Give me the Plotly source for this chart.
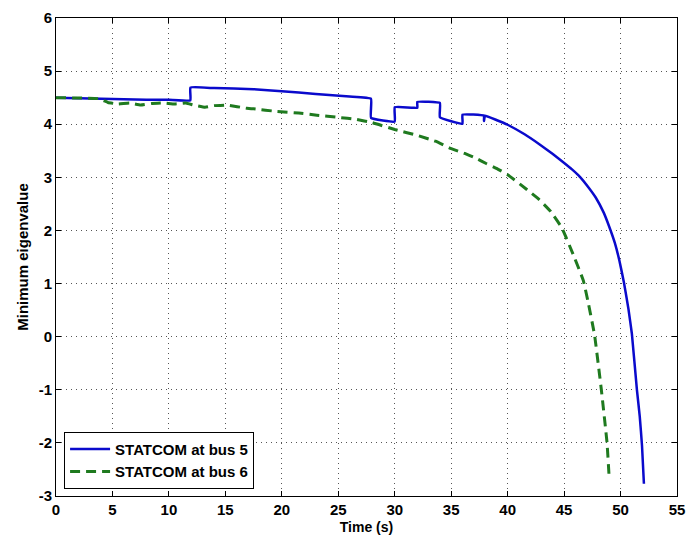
import plotly.graph_objects as go

# Minimum eigenvalue trajectories with a STATCOM at two candidate buses
t_bus5 = [0, 2, 4, 6, 8, 10, 11.9, 11.9, 14, 17.5, 20, 23, 26, 27.9, 27.9, 30.0, 30.0,
          32.0, 32.0, 34.0, 34.0, 36.0, 36.0, 37.9, 37.9, 38.0, 39, 40, 41.5, 42.9, 44,
          44.9, 45.7, 46.4, 47.2, 47.8, 48.5, 49.0, 49.5, 49.9, 50.3, 50.7, 51.0, 51.45,
          51.7, 51.9, 52.07]
v_bus5 = [4.50, 4.49, 4.48, 4.47, 4.46, 4.46, 4.45, 4.69, 4.68, 4.66, 4.62, 4.57, 4.52,
          4.48, 4.12, 4.05, 4.32, 4.31, 4.42, 4.40, 4.13, 4.01, 4.18, 4.16, 4.06, 4.16,
          4.08, 3.99, 3.81, 3.61, 3.44, 3.29, 3.15, 3.01, 2.80, 2.62, 2.34, 2.07, 1.76,
          1.43, 1.02, 0.52, 0.06, -1.0, -1.5, -2.05, -2.77]

t_bus6 = [0, 3.8, 4.6, 5.5, 6.5, 7.5, 8.5, 9.5, 10.5, 11.5, 12.2, 13.2, 14, 15.2, 16.9,
          17.5, 19.6, 21.5, 23.1, 25, 26.6, 28, 30, 32, 33.6, 35, 36.2, 37.1, 38.1, 39,
          40, 41.7, 42.8, 43.8, 44.8, 45.8, 46.7, 47.1, 47.7, 48.3, 48.8, 49.0]
v_bus6 = [4.50, 4.48, 4.41, 4.38, 4.40, 4.36, 4.39, 4.40, 4.38, 4.40, 4.36, 4.32, 4.35,
          4.36, 4.30, 4.29, 4.24, 4.21, 4.17, 4.13, 4.09, 4.03, 3.90, 3.79, 3.68, 3.54,
          3.45, 3.37, 3.26, 3.17, 3.05, 2.77, 2.58, 2.36, 2.05, 1.55, 1.06, 0.68, 0.03,
          -1.0, -1.99, -2.68]

x_ticks = [0, 5, 10, 15, 20, 25, 30, 35, 40, 45, 50, 55]
y_ticks = [-3, -2, -1, 0, 1, 2, 3, 4, 5, 6]

FONT = "Liberation Sans, Arial, sans-serif"

fig = go.Figure()
fig.add_trace(go.Scatter(x=t_bus5, y=v_bus5, mode="lines", name="STATCOM at bus 5",
                         line=dict(color="#0a0acc", width=2.5, shape="spline",
                                   smoothing=0.3)))
fig.add_trace(go.Scatter(x=t_bus6, y=v_bus6, mode="lines", name="STATCOM at bus 6",
                         line=dict(color="#1f7a1f", width=3, dash="10px,6px",
                                   shape="spline", smoothing=0.3)))

axis_common = dict(
    showline=True, linecolor="black", linewidth=1, mirror="ticks",
    ticks="inside", ticklen=5, tickcolor="black",
    showgrid=True, gridcolor="rgba(30,30,30,0.75)", gridwidth=1, griddash="1px,4px",
    zeroline=False,
    tickfont=dict(family=FONT, size=15, color="black", weight="bold"),
)

fig.update_xaxes(range=[0, 55], tickvals=x_ticks, ticktext=[str(v) for v in x_ticks],
                 title=dict(text="Time (s)", standoff=5,
                            font=dict(family=FONT, size=14, color="black", weight="bold")),
                 **axis_common)
fig.update_yaxes(range=[-3, 6], tickvals=y_ticks, ticktext=[str(v) for v in y_ticks],
                 title=dict(text="Minimum eigenvalue", standoff=6,
                            font=dict(family=FONT, size=15, color="black", weight="bold")),
                 **axis_common)

fig.update_layout(
    width=694, height=542,
    margin=dict(l=56, r=9, t=15, b=45),
    paper_bgcolor="white", plot_bgcolor="white",
    font=dict(family=FONT, color="black"),
    legend=dict(x=0.013, y=0.015, xanchor="left", yanchor="bottom",
                bgcolor="white", bordercolor="black", borderwidth=1,
                font=dict(family=FONT, size=15, color="black", weight="bold"),
                tracegroupgap=0, itemwidth=40),
    showlegend=True,
)

fig.write_html("out.html")
